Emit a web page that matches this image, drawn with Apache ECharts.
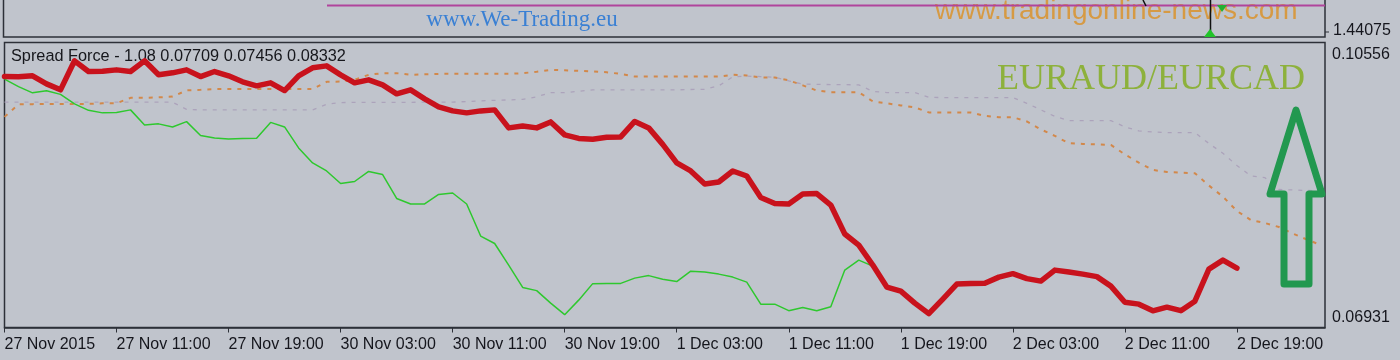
<!DOCTYPE html>
<html>
<head>
<meta charset="utf-8">
<style>
  html, body { margin: 0; padding: 0; background: #c0c4cc; }
  #chart { width: 1400px; height: 360px; }
</style>
<script src="https://cdn.jsdelivr.net/npm/echarts@6.0.0/dist/echarts.min.js"></script>
</head>
<body>
<div id="chart"></div>
<script>
// ---- data (hourly bars, index 0 = 27 Nov 2015 03:00) ----
const xTickLabels = ['27 Nov 2015','27 Nov 11:00','27 Nov 19:00','30 Nov 03:00','30 Nov 11:00','30 Nov 19:00',
  '1 Dec 03:00','1 Dec 11:00','1 Dec 19:00','2 Dec 03:00','2 Dec 11:00','2 Dec 19:00'];
const yTickLabels = ['0.10556', '0.06931'];
const yMax = 0.10556, yMin = 0.06931;
const titleText = 'Spread Force - 1.08 0.07709 0.07456 0.08332';
const pairText = 'EURAUD/EURCAD';
const mainPriceLabel = '1.44075';

const spreadRed = [0.10123,0.10119,0.10132,0.10030,0.09954,0.10323,0.10187,0.10189,0.10208,0.10187,
 0.10323,0.10145,0.10170,0.10208,0.10123,0.10187,0.10132,0.10056,0.10005,0.10043,
 0.09945,0.10132,0.10234,0.10259,0.10145,0.10043,0.10081,0.10017,0.09903,0.09954,
 0.09839,0.09737,0.09686,0.09661,0.09686,0.09699,0.09470,0.09495,0.09470,0.09546,
 0.09381,0.09336,0.09326,0.09351,0.09355,0.09552,0.09470,0.09260,0.09024,0.08922,
 0.08756,0.08782,0.08922,0.08858,0.08584,0.08508,0.08502,0.08629,0.08635,0.08489,
 0.08120,0.07979,0.07725,0.07445,0.07394,0.07241,0.07107,0.07292,0.07483,0.07492,
 0.07495,0.07572,0.07616,0.07553,0.07521,0.07661,0.07636,0.07610,0.07578,0.07457,
 0.07253,0.07228,0.07143,0.07190,0.07145,0.07266,0.07674,0.07788,0.07687];

const spreadGreen = [0.10090,0.09994,0.09916,0.09941,0.09896,0.09775,0.09693,0.09661,0.09667,0.09699,
 0.09508,0.09521,0.09482,0.09550,0.09374,0.09342,0.09330,0.09336,0.09339,0.09540,
 0.09482,0.09215,0.09024,0.08922,0.08763,0.08788,0.08916,0.08877,0.08572,0.08502,
 0.08502,0.08623,0.08642,0.08502,0.08094,0.07999,0.07725,0.07441,0.07400,0.07241,
 0.07094,0.07279,0.07489,0.07492,0.07492,0.07559,0.07591,0.07546,0.07515,0.07648,
 0.07636,0.07610,0.07572,0.07508,0.07228,0.07228,0.07145,0.07186,0.07143,0.07194,
 0.07661,0.07788,0.07712];

const bandOrange = [0.09610,0.09769,0.09772,0.09775,0.09775,0.09775,0.09775,0.09782,0.09784,0.09852,
 0.09852,0.09858,0.09868,0.09947,0.09954,0.09963,0.09963,0.09963,0.09963,0.09963,
 0.09963,0.09963,0.09963,0.10056,0.10059,0.10081,0.10145,0.10166,0.10166,0.10145,
 0.10151,0.10157,0.10157,0.10157,0.10157,0.10157,0.10157,0.10166,0.10183,0.10208,
 0.10202,0.10196,0.10189,0.10177,0.10157,0.10123,0.10123,0.10123,0.10123,0.10123,
 0.10123,0.10123,0.10145,0.10136,0.10113,0.10110,0.10075,0.10011,0.09945,0.09924,
 0.09924,0.09924,0.09807,0.09782,0.09756,0.09731,0.09667,0.09665,0.09665,0.09665,
 0.09622,0.09606,0.09606,0.09552,0.09451,0.09368,0.09275,0.09266,0.09260,0.09253,
 0.09132,0.09028,0.08935,0.08909,0.08900,0.08893,0.08737,0.08595,0.08413,0.08298,
 0.08260,0.08209,0.08126,0.08050,0.07979];

const bandGray = [0.09797,0.09797,0.09797,0.09797,0.09797,0.09797,0.09797,0.09797,0.09797,0.09797,
 0.09797,0.09797,0.09797,0.09705,0.09699,0.09699,0.09699,0.09699,0.09699,0.09699,
 0.09699,0.09699,0.09699,0.09769,0.09792,0.09795,0.09795,0.09795,0.09795,0.09795,
 0.09798,0.09798,0.09798,0.09805,0.09814,0.09820,0.09826,0.09833,0.09865,0.09919,
 0.09919,0.09935,0.09954,0.09954,0.09954,0.09954,0.09954,0.09954,0.09954,0.09958,
 0.09960,0.10005,0.10119,0.10128,0.10123,0.10113,0.10068,0.10026,0.10024,0.10021,
 0.10020,0.10017,0.09935,0.09919,0.09919,0.09919,0.09858,0.09856,0.09856,0.09856,
 0.09856,0.09856,0.09856,0.09782,0.09699,0.09616,0.09563,0.09563,0.09563,0.09563,
 0.09482,0.09431,0.09419,0.09410,0.09410,0.09410,0.09272,0.09147,0.08992,0.08858,
 0.08837,0.08686,0.08680,0.08674,0.08671];

// ---- rendering ----
const toPairs = arr => arr.map((v, i) => [i, v]);
const FONT = 'Liberation Sans';
const TXT = '#15161d';
const BORDER = '#2d3038';

const chart = echarts.init(document.getElementById('chart'), null, { renderer: 'canvas' });

chart.setOption({
  backgroundColor: '#c0c4cc',
  animation: false,
  grid: { left: 4.5, top: 42.5, width: 1320.5, height: 285, show: true,
          borderColor: BORDER, borderWidth: 1.5, backgroundColor: 'transparent' },
  xAxis: {
    type: 'value', min: 0, max: 94.29, interval: 8,
    splitLine: { show: false },
    axisLine: { show: true, lineStyle: { color: BORDER, width: 1.5 } },
    axisTick: { show: true, length: 5, lineStyle: { color: BORDER, width: 1 } },
    axisLabel: {
      showMaxLabel: false, showMinLabel: true, hideOverlap: false,
      align: 'left', margin: 9, fontFamily: FONT, fontSize: 16, color: TXT,
      formatter: v => (Math.abs(v % 8) < 1e-6 && xTickLabels[Math.round(v / 8)]) || ''
    }
  },
  yAxis: {
    type: 'value', position: 'right', min: yMin, max: yMax, interval: 0.03625,
    splitLine: { show: false },
    axisLine: { show: false },
    axisTick: { show: true, length: 3, lineStyle: { color: BORDER } },
    axisLabel: {
      margin: 7, fontFamily: FONT, fontSize: 16, color: TXT, align: 'left',
      formatter: v => Math.abs(v - yMax) < 1e-6 ? '{t|' + yTickLabels[0] + '}' : '{b|' + yTickLabels[1] + '}',
      rich: {
        t: { padding: [25, 0, 0, 0], fontFamily: FONT, fontSize: 16, color: TXT },
        b: { padding: [0, 0, 20, 0], fontFamily: FONT, fontSize: 16, color: TXT }
      }
    }
  },
  series: [
    { type: 'line', data: toPairs(bandOrange), showSymbol: false, z: 3,
      lineStyle: { color: '#d2884a', width: 2, type: [4, 6] } },
    { type: 'line', data: toPairs(bandGray), showSymbol: false, z: 3,
      lineStyle: { color: '#aca3bb', width: 1.3, type: [4, 6] } },
    { type: 'line', data: toPairs(spreadGreen), showSymbol: false, z: 4,
      lineStyle: { color: '#2ec82e', width: 1.5 } },
    { type: 'line', data: toPairs(spreadRed), showSymbol: false, z: 5,
      lineStyle: { color: '#c8121c', width: 5.5, join: 'round', cap: 'round' } }
  ],
  graphic: [
    // top (price) panel
    { type: 'rect', z: 1, shape: { x: 3.5, y: -3, width: 1321.5, height: 40 },
      style: { fill: 'none', stroke: BORDER, lineWidth: 1.5 } },
    { type: 'text', z: 1, x: 522, y: 20,
      style: { text: 'www.We-Trading.eu', font: '23px "Liberation Serif"', fill: '#3a80d4',
               textAlign: 'center', textVerticalAlign: 'middle' } },
    { type: 'text', z: 1, x: 935, y: 25,
      style: { text: 'www.tradingonline-news.com', font: '28px "Liberation Sans"', fill: '#d69a44',
               textAlign: 'left', textVerticalAlign: 'bottom' } },
    { type: 'line', z: 2, shape: { x1: 327, y1: 5.5, x2: 1325, y2: 5.5 },
      style: { stroke: '#b0449c', lineWidth: 2 } },
    { type: 'line', z: 2, shape: { x1: 1210.5, y1: 0, x2: 1210.5, y2: 32 },
      style: { stroke: '#111', lineWidth: 1.5 } },
    { type: 'polygon', z: 2, shape: { points: [[1204, 37], [1216, 37], [1210, 29]] },
      style: { fill: '#22c42a' } },
    { type: 'polygon', z: 2, shape: { points: [[1217, 5], [1227, 5], [1222, 12]] },
      style: { fill: '#22b030' } },
    { type: 'line', z: 2, shape: { x1: 1143, y1: 0, x2: 1146, y2: 6 },
      style: { stroke: '#111', lineWidth: 1.5 } },
    { type: 'line', z: 2, shape: { x1: 1325, y1: 32, x2: 1329, y2: 32 },
      style: { stroke: BORDER, lineWidth: 1 } },
    { type: 'text', z: 1, x: 1333, y: 31,
      style: { text: mainPriceLabel, font: '16px "Liberation Sans"', fill: TXT,
               textAlign: 'left', textVerticalAlign: 'middle' } },
    // indicator window texts
    { type: 'text', z: 1, x: 11, y: 57,
      style: { text: titleText, font: '16.3px "Liberation Sans"', fill: '#16171c',
               textAlign: 'left', textVerticalAlign: 'middle' } },
    { type: 'text', z: 1, x: 997, y: 80,
      style: { text: pairText, font: '36px "Liberation Serif"', fill: '#8db13c',
               textAlign: 'left', textVerticalAlign: 'middle' } },
    // big green up-arrow annotation
    { type: 'polygon', z: 6,
      shape: { points: [[1296, 110], [1322, 194], [1309, 194], [1309, 284], [1284, 284], [1284, 194], [1270, 194]] },
      style: { fill: 'none', stroke: '#22984f', lineWidth: 7, lineJoin: 'round' } }
  ]
});
</script>
</body>
</html>
